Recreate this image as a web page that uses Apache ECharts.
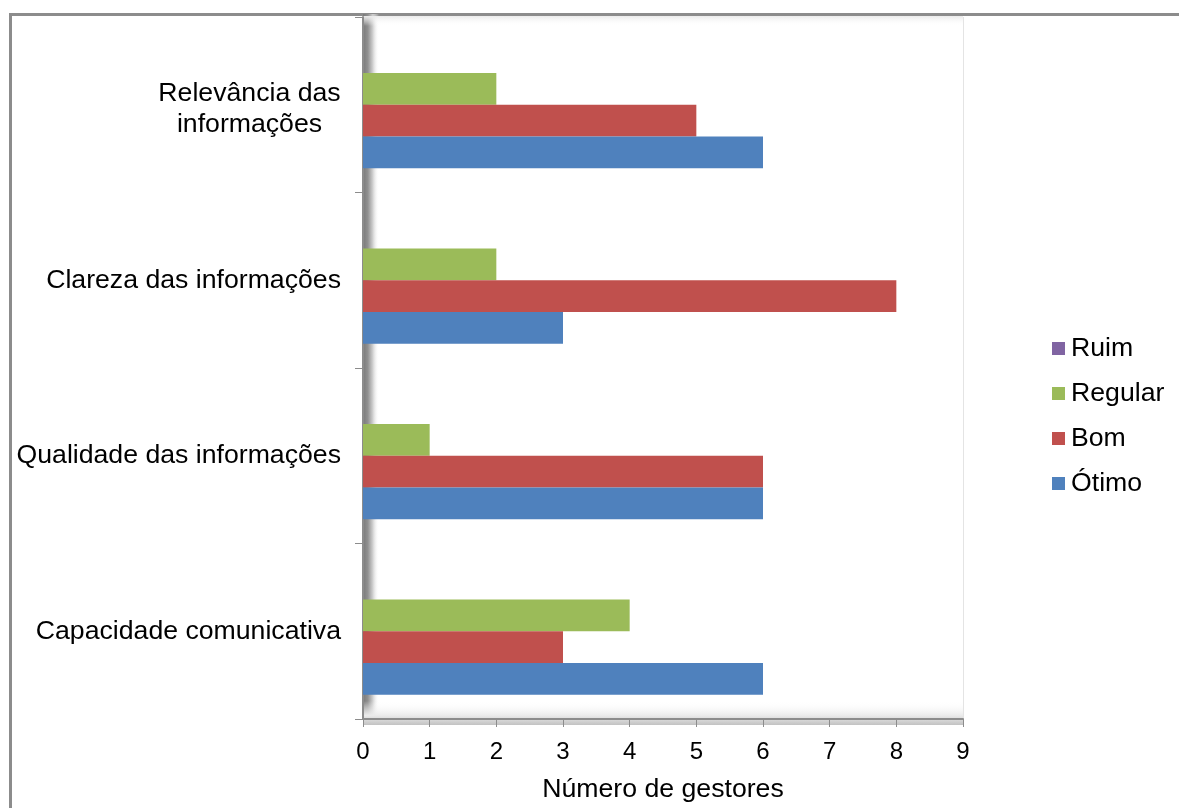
<!DOCTYPE html>
<html>
<head>
<meta charset="utf-8">
<script src="https://cdn.jsdelivr.net/npm/echarts@6/dist/echarts.min.js"></script>
<style>
  html, body { margin: 0; padding: 0; background: #ffffff; overflow: hidden; }
  #chart { width: 1179px; height: 808px; }
</style>
</head>
<body>
<div id="chart"></div>
<script>
// Avaliação dos gestores por critério
const categories = [
  'Capacidade comunicativa',
  'Qualidade das informações',
  'Clareza das informações',
  'Relevância das\ninformações'
];
// first series sits at the top of each category band
const seriesNames = ['Ruim', 'Regular', 'Bom', 'Ótimo'];
const otimo   = [6, 6, 3, 6];
const bom     = [3, 6, 8, 5];
const regular = [4, 1, 2, 2];
const ruim    = [0, 0, 0, 0];
const xTicks = [0, 1, 2, 3, 4, 5, 6, 7, 8, 9];

const colors = {
  'Ótimo': '#4F81BD',
  'Bom': '#C0504D',
  'Regular': '#9BBB59',
  'Ruim': '#8064A2'
};

const FONT = '"Liberation Sans", Arial, sans-serif';
const TEXT_SIZE = 26.67;   // 20pt
const TICK_SIZE = 24;      // 18pt
const G = { left: 363, top: 17, right: 216, bottom: 83 };
const W = 1179, H = 808;
const plotW = W - G.left - G.right;
const plotH = H - G.top - G.bottom;

const chart = echarts.init(document.getElementById('chart'), null, { renderer: 'canvas', width: W, height: H });

const valuesBySeries = { 'Ótimo': otimo, 'Bom': bom, 'Regular': regular, 'Ruim': ruim };

// two-line category labels sit a little lower in their band
const categoryData = categories.map(c => c.indexOf('\n') >= 0
  ? { value: c, textStyle: { padding: [8, 0, 0, 0] } }
  : c);

const option = {
  backgroundColor: '#ffffff',
  animation: false,
  textStyle: { fontFamily: FONT },
  graphic: [
    // outer frame
    {
      type: 'rect', z: 0, silent: true,
      shape: { x: 10.5, y: 14.5, width: 1300, height: 900 },
      style: { fill: 'none', stroke: '#8c8c8c', lineWidth: 3 }
    },
    // shaded side wall next to the category axis
    {
      type: 'rect', z: 0, silent: true,
      shape: { x: G.left, y: G.top - 3, width: 16, height: plotH + 3 },
      style: {
        fill: new echarts.graphic.LinearGradient(0, 0, 1, 0, [
          { offset: 0, color: '#7a7a7a' },
          { offset: 0.3, color: '#909090' },
          { offset: 0.6, color: '#cdcdcd' },
          { offset: 1, color: 'rgba(255,255,255,0)' }
        ])
      }
    },
    // shaded floor above the value axis
    {
      type: 'rect', z: 0, silent: true,
      shape: { x: G.left, y: G.top + plotH - 24, width: plotW, height: 24 },
      style: {
        fill: new echarts.graphic.LinearGradient(0, 0, 0, 1, [
          { offset: 0, color: 'rgba(255,255,255,0)' },
          { offset: 0.6, color: 'rgba(235,235,235,1)' },
          { offset: 1, color: '#c2c2c2' }
        ])
      }
    },
    // faint top of the back wall
    {
      type: 'rect', z: 0, silent: true,
      shape: { x: G.left, y: G.top - 1, width: plotW, height: 10 },
      style: {
        fill: new echarts.graphic.LinearGradient(0, 0, 0, 1, [
          { offset: 0, color: '#ebebeb' },
          { offset: 1, color: 'rgba(255,255,255,0)' }
        ])
      }
    },
    // back wall right edge
    {
      type: 'line', z: 0, silent: true,
      shape: { x1: G.left + plotW + 0.5, y1: G.top, x2: G.left + plotW + 0.5, y2: G.top + plotH },
      style: { stroke: '#e4e4e4', lineWidth: 1 }
    }
  ],
  legend: {
    orient: 'vertical',
    left: 1052,
    top: 335,
    padding: 0,
    data: ['Ruim', 'Regular', 'Bom', 'Ótimo'],
    icon: 'rect',
    itemWidth: 13,
    itemHeight: 13,
    itemGap: 18,
    textStyle: { fontFamily: FONT, fontSize: TEXT_SIZE, color: '#000000', padding: [0, 0, 0, 1] }
  },
  grid: { left: G.left, top: G.top, right: G.right, bottom: G.bottom, containLabel: false },
  xAxis: {
    type: 'value',
    min: 0,
    max: 9,
    interval: 1,
    name: 'Número de gestores',
    nameLocation: 'middle',
    nameGap: 57,
    nameTextStyle: { fontFamily: FONT, fontSize: TEXT_SIZE, color: '#000000' },
    axisLine: { show: true, lineStyle: { color: '#8c8c8c', width: 2 } },
    axisTick: { show: true, length: 8, lineStyle: { color: '#8c8c8c', width: 1 } },
    axisLabel: {
      fontFamily: FONT, fontSize: TICK_SIZE, color: '#000000', margin: 21,
      formatter: v => xTicks.includes(v) ? String(v) : ''
    },
    splitLine: { show: false }
  },
  yAxis: {
    type: 'category',
    data: categoryData,
    axisLine: { show: true, lineStyle: { color: '#8c8c8c', width: 2 } },
    axisTick: { show: true, length: 8, lineStyle: { color: '#8c8c8c', width: 1 } },
    axisLabel: {
      fontFamily: FONT, fontSize: TEXT_SIZE, color: '#000000', margin: 22,
      formatter: function (v) {
        if (v.indexOf('\n') >= 0) {
          return v.split('\n').map(s => '{c|' + s + '}').join('\n');
        }
        return v;
      },
      rich: {
        c: { fontFamily: FONT, fontSize: TEXT_SIZE, color: '#000000', width: 183, align: 'center', lineHeight: 31 }
      }
    },
    splitLine: { show: false }
  },
  series: seriesNames.map(name => ({
    name: name,
    type: 'bar',
    data: valuesBySeries[name],
    barGap: '0%',
    barCategoryGap: '27.7%',
    itemStyle: { color: colors[name] },
    z: 2
  }))
};

chart.setOption(option);
</script>
</body>
</html>
